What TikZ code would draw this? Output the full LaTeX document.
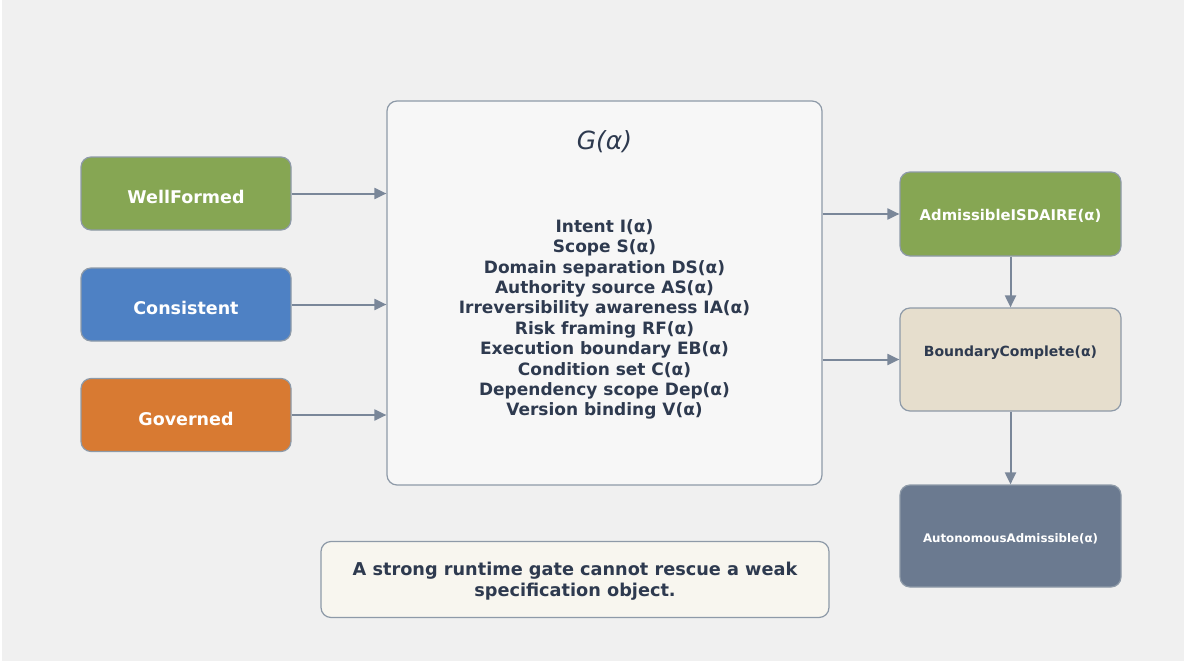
\documentclass[tikz,border=0pt]{standalone}
\usepackage{fontspec}
\setmainfont{DejaVu Sans}
\usetikzlibrary{arrows.meta}
\definecolor{bg}{HTML}{F0F0F0}
\definecolor{edge}{HTML}{8E9AA8}
\definecolor{arr}{HTML}{7A8799}
\definecolor{ink}{HTML}{2E3A4F}
\definecolor{cgreen}{HTML}{86A653}
\definecolor{cblue}{HTML}{4E81C4}
\definecolor{corange}{HTML}{D87A32}
\definecolor{cslate}{HTML}{6B7A90}
\definecolor{cbeige}{HTML}{E6DECD}
\definecolor{cnote}{HTML}{F8F6EF}
\definecolor{cmain}{HTML}{F7F7F7}
\tikzset{
  box/.style={draw=edge, line width=1.2pt, rounded corners=10pt, inner sep=0pt, align=center},
  conn/.style={draw=arr, line width=2pt, -{Triangle[length=12pt,width=11pt]}},
  lefttxt/.style={text=white, font=\bfseries\fontsize{17.5}{20}\selectfont},
}
\begin{document}
\begin{tikzpicture}[x=1pt,y=-1pt]
\fill[white] (0,0) rectangle (1188,666);
\fill[bg] (2,0) rectangle (1184,661);
\useasboundingbox (0,0) rectangle (1188,666);
% main box
\node[box, fill=cmain, minimum width=435pt, minimum height=384pt] (main) at (604.5,293) {};
\node[text=ink, font=\itshape\fontsize{25}{28}\selectfont] (g) at (604.5,142) {G(α)};
\node[text=ink, align=center, font=\bfseries\fontsize{17}{20.4}\selectfont] (list) at (604.5,319.5) {Intent I(α)\\Scope S(α)\\Domain separation DS(α)\\Authority source AS(α)\\Irreversibility awareness IA(α)\\Risk framing RF(α)\\Execution boundary EB(α)\\Condition set C(α)\\Dependency scope Dep(α)\\Version binding V(α)};
% left boxes
\node[box, fill=cgreen, minimum width=210pt, minimum height=73pt] (wf) at (186,193.5) {};
\node[lefttxt] (wft) at (186,197) {WellFormed};
\node[box, fill=cblue, minimum width=210pt, minimum height=73pt] (cs) at (186,304.5) {};
\node[lefttxt] (cst) at (186,308) {Consistent};
\node[box, fill=corange, minimum width=210pt, minimum height=73pt] (gv) at (186,415) {};
\node[lefttxt] (gvt) at (186,418.5) {Governed};
% right boxes
\node[box, fill=cgreen, minimum width=221pt, minimum height=84pt] (adm) at (1010.5,214) {};
\node[text=white, font=\bfseries\fontsize{14.8}{17}\selectfont] (admt) at (1010.5,215.5) {AdmissibleISDAIRE(α)};
\node[box, fill=cbeige, minimum width=221pt, minimum height=103pt] (bc) at (1010.5,359.5) {};
\node[text=ink, font=\bfseries\fontsize{14}{16}\selectfont] (bct) at (1010.5,353) {BoundaryComplete(α)};
\node[box, fill=cslate, minimum width=221pt, minimum height=102pt] (aa) at (1010.5,536) {};
\node[text=white, font=\bfseries\fontsize{11.8}{14}\selectfont] (aat) at (1010.5,538.5) {AutonomousAdmissible(α)};
% note
\node[box, fill=cnote, minimum width=508pt, minimum height=76pt] (note) at (575,579.5) {};
\node[text=ink, align=center, font=\bfseries\fontsize{17.7}{21}\selectfont] (notet) at (575,581) {A strong runtime gate cannot rescue a weak\\specification object.};
% connectors
\draw[conn] (wf.east) -- (main.west |- wf.east);
\draw[conn] (cs.east) -- (main.west |- cs.east);
\draw[conn] (gv.east) -- (main.west |- gv.east);
\draw[conn] (main.east |- adm.west) -- (adm.west);
\draw[conn] (main.east |- bc.west) -- (bc.west);
\draw[conn] (adm.south) -- (bc.north);
\draw[conn] (bc.south) -- (aa.north);
\end{tikzpicture}
\end{document}
